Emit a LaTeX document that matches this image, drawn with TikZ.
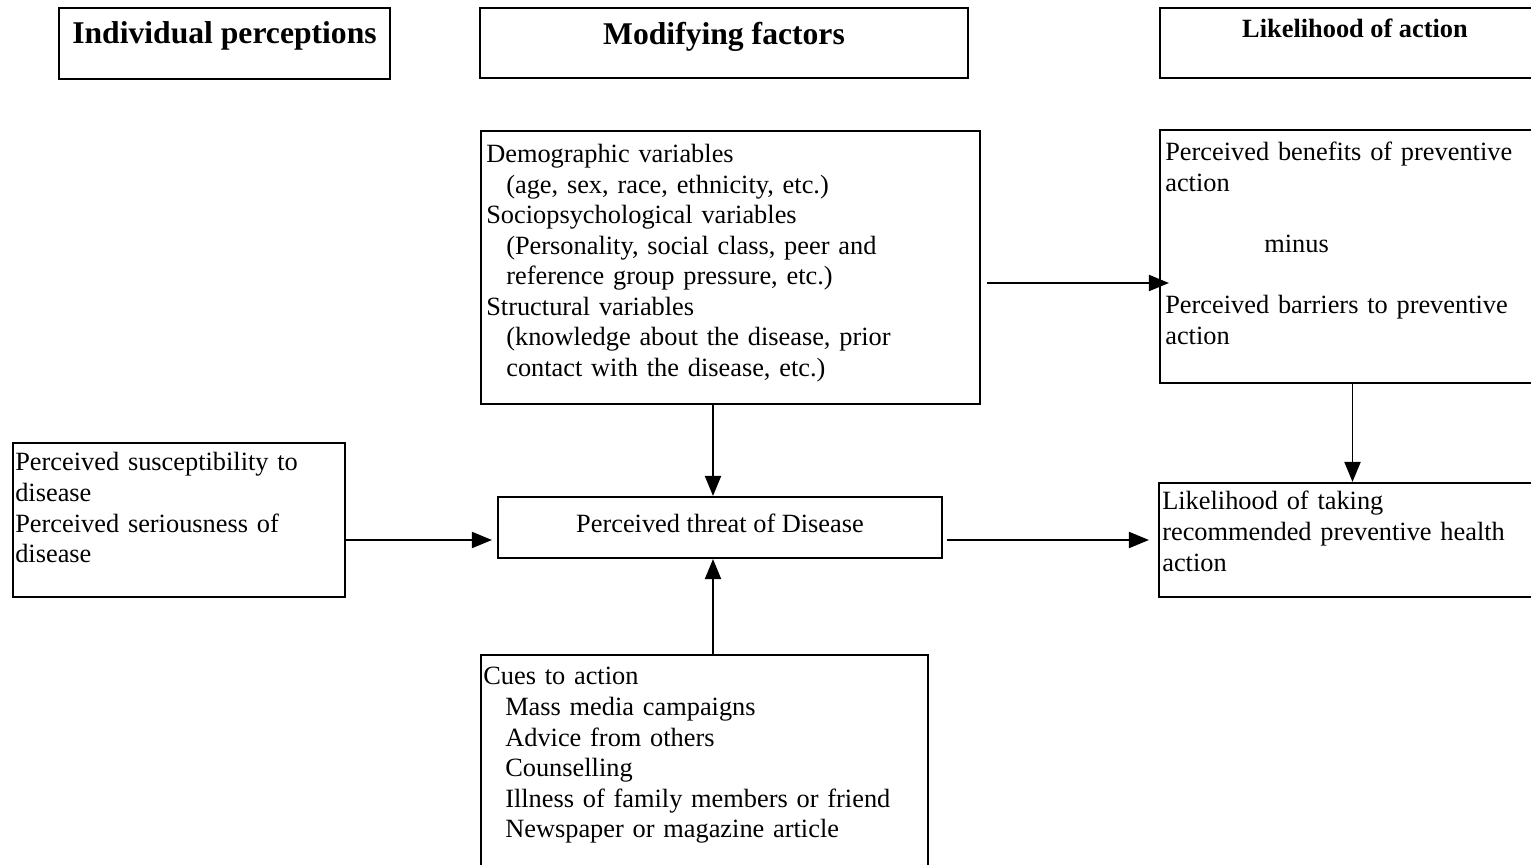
\documentclass[tikz,border=0pt]{standalone}
\usepackage{fontspec}
\setmainfont{Liberation Serif}
\usetikzlibrary{arrows.meta}

\begin{document}
\begin{tikzpicture}[
  box/.style={draw, line width=1.2pt, inner sep=0pt},
  body/.style={inner sep=0pt, align=left, font=\fontsize{15}{17.4}\selectfont},
  head/.style={inner sep=0pt, font=\bfseries\fontsize{18}{20}\selectfont},
  arr/.style={-{Triangle[length=0.4cm,width=0.32cm]}, line width=1.1pt}]
  \useasboundingbox (0,0) rectangle (30.62,-17.3);
  \clip (0,0) rectangle (30.62,-17.3);

  % nodes
  \node[box, minimum width=6.62cm, minimum height=1.42cm] (ip) at (4.49,-0.87) {};
  \node[box, minimum width=9.76cm, minimum height=1.40cm] (mf) at (14.48,-0.86) {};
  \node[box, minimum width=7.70cm, minimum height=1.40cm] (la) at (27.05,-0.86) {};
  \node[box, minimum width=9.98cm, minimum height=5.46cm] (dv) at (14.61,-5.35) {};
  \node[box, minimum width=7.70cm, minimum height=5.06cm] (pb) at (27.05,-5.13) {};
  \node[box, minimum width=6.64cm, minimum height=3.08cm] (ps) at (3.58,-10.40) {};
  \node[box, minimum width=8.88cm, minimum height=1.22cm] (pt) at (14.40,-10.55) {};
  \node[box, minimum width=7.72cm, minimum height=2.28cm] (lt) at (27.04,-10.80) {};
  \node[box, minimum width=8.94cm, minimum height=4.90cm] (cu) at (14.09,-15.55) {};

  % texts
  \node[head, anchor=base] (ipt) at (ip.center) {Individual perceptions};
  \node[head, anchor=base] (mft) at ([yshift=-0.04cm]mf.center) {Modifying factors};
  \node[head, anchor=base, font=\bfseries\fontsize{15}{17}\selectfont] (lat)
    at ([xshift=0.05cm,yshift=0.1cm]la.center) {Likelihood of action};
  \node[body, anchor=base west, text width=9.5cm] (dvt)
    at ([xshift=0.12cm,yshift=-0.65cm]dv.north west) {Demographic variables\\
    \hspace*{0.4cm}(age, sex, race, ethnicity, etc.)\\
    Sociopsychological variables\\
    \hspace*{0.4cm}(Personality, social class, peer and\\
    \hspace*{0.4cm}reference group pressure, etc.)\\
    Structural variables\\
    \hspace*{0.4cm}(knowledge about the disease, prior\\
    \hspace*{0.4cm}contact with the disease, etc.)};
  \node[body, anchor=base west, text width=7.5cm] (pbt)
    at ([xshift=0.12cm,yshift=-0.64cm]pb.north west) {Perceived benefits of preventive\\
    action\\[17.4pt]
    \hspace*{1.98cm}minus\\[17.4pt]
    Perceived barriers to preventive\\
    action};
  \node[body, anchor=base west, text width=6.4cm] (pst)
    at ([xshift=0.06cm,yshift=-0.58cm]ps.north west) {Perceived susceptibility to\\
    disease\\
    Perceived seriousness of\\
    disease};
  \node[body, anchor=base] (ptt) at ([yshift=-0.1cm]pt.center) {Perceived threat of Disease};
  \node[body, anchor=base west, text width=7.5cm] (ltt)
    at ([xshift=0.08cm,yshift=-0.56cm]lt.north west) {Likelihood of taking\\
    recommended preventive health\\
    action};
  \node[body, anchor=base west, text width=8.6cm] (cut)
    at ([xshift=0.06cm,yshift=-0.62cm]cu.north west) {Cues to action\\
    \hspace*{0.44cm}Mass media campaigns\\
    \hspace*{0.44cm}Advice from others\\
    \hspace*{0.44cm}Counselling\\
    \hspace*{0.44cm}Illness of family members or friend\\
    \hspace*{0.44cm}Newspaper or magazine article};

  % edges
  \draw[arr] ([xshift=0.12cm,yshift=-0.31cm]dv.east) -- ([xshift=0.2cm,yshift=-0.31cm]dv.east -| pb.west);
  \draw[arr] (pb.south) -- (pb.south |- lt.north);
  \draw[arr] ([yshift=-0.4cm]ps.east) -- ([xshift=-0.1cm,yshift=-0.4cm]ps.east -| pt.west);
  \draw[arr] ([xshift=0.08cm]pt.east |- lt.west) -- ([xshift=-0.18cm]lt.west);
  \draw[arr] ([xshift=-0.14cm]pt.north |- dv.south) -- ([xshift=-0.14cm]pt.north);
  \draw[arr] ([xshift=-0.14cm]pt.south |- cu.north) -- ([xshift=-0.14cm]pt.south);
\end{tikzpicture}
\end{document}
